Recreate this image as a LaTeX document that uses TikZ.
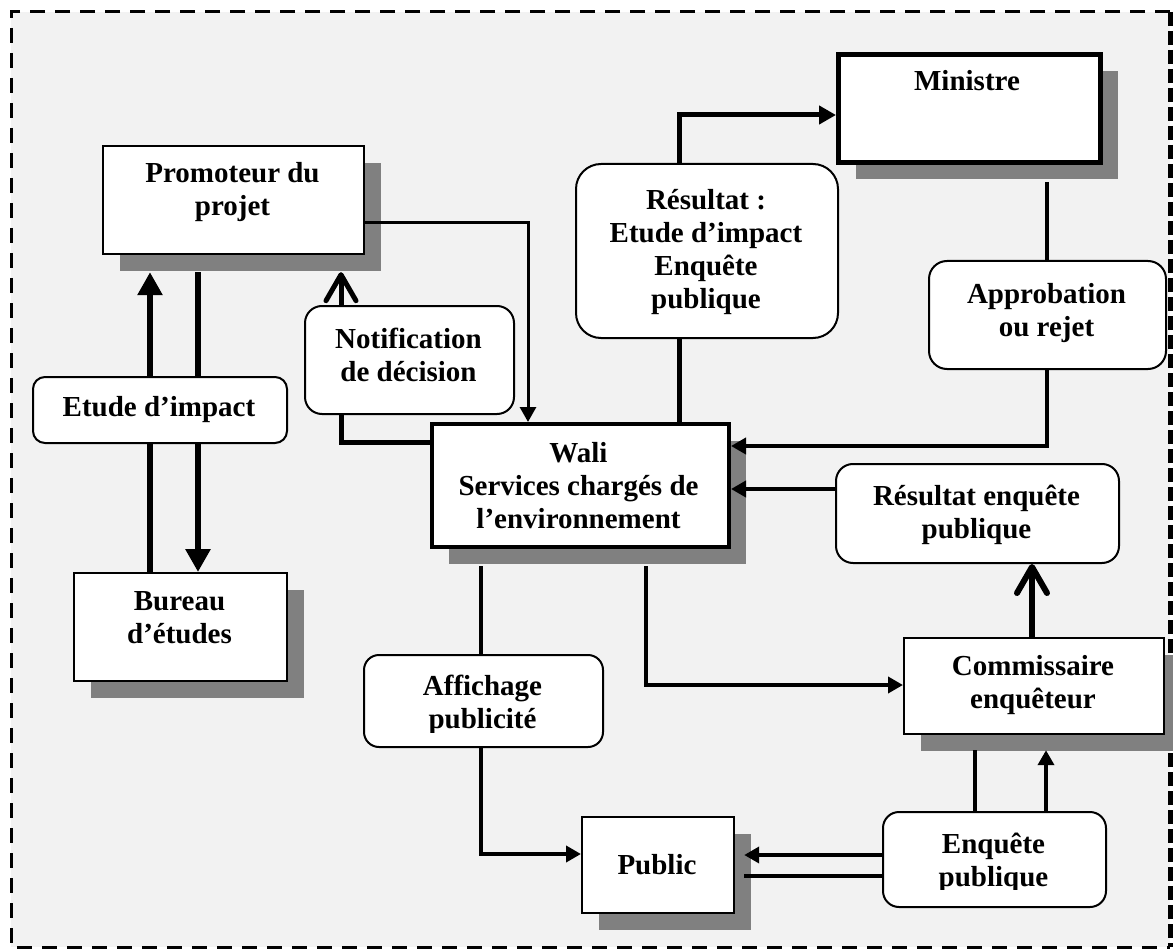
\documentclass[tikz,border=0pt]{standalone}
\usepackage{fontspec}
\setmainfont{Liberation Serif}
\usetikzlibrary{arrows.meta,shadows}

\definecolor{panel}{HTML}{F2F2F2}
\definecolor{shadowgray}{HTML}{808080}

% centred multi-line label whose base is the first baseline
\newcommand\stack[1]{\begin{tabular}[t]{@{}c@{}}#1\end{tabular}}

\tikzset{
  box/.style={draw=black, fill=white, line width=2.2pt, inner sep=0pt, anchor=north west},
  castshadow/.style={drop shadow={shadow xshift=17pt, shadow yshift=-17pt, fill=shadowgray, opacity=1}},
  tag/.style={box, line width=2pt, rounded corners=#1},
  txt/.style={anchor=base, inner sep=0pt, font=\bfseries\fontsize{29}{33}\selectfont},
  link/.style={line width=4pt},
  tri/.style={-{Triangle[length=15pt,width=16pt]}},
  bigtri/.style={-{Triangle[length=23pt,width=24pt]}},
  chevron/.style={-{Straight Barb[length=26pt,width=30pt,round]}},
}

\begin{document}
\begin{tikzpicture}[x=1pt,y=-1pt]
\useasboundingbox (0,0) rectangle (1173,952);

% framed background
\fill[panel] (11,12) rectangle (1170,947);
\draw[line width=3pt, dash pattern=on 15pt off 10pt] (1170,12) -- (11,12) -- (11,947) -- (1170,947);
\draw[line width=5pt, dash pattern=on 14pt off 5pt] (1170,12) -- (1170,947);

% actors (shadowed boxes)
\node[box, castshadow, minimum width=261pt, minimum height=108pt] (prom) at (102,145) {};
\node[box, castshadow, line width=5pt, minimum width=262pt, minimum height=108pt] (min) at (836,52) {};
\node[box, castshadow, line width=4pt, minimum width=297pt, minimum height=123pt] (wali) at (430,422) {};
\node[box, castshadow, minimum width=213pt, minimum height=108pt] (bur) at (73,572) {};
\node[box, castshadow, minimum width=152pt, minimum height=96pt] (pub) at (581,816) {};
\node[box, castshadow, minimum width=260pt, minimum height=96pt] (comm) at (903,637) {};

\node[txt] (prom-t) at (232.5,183) {\stack{Promoteur du\\projet}};
\node[txt] (min-t) at (967,91) {Ministre};
\node[txt] (wali-t) at (578.5,462) {\stack{Wali\\Services chargés de\\l’environnement}};
\node[txt] (bur-t) at (179.5,610) {\stack{Bureau\\d’études}};
\node[txt] (pub-t) at (657,874) {Public};
\node[txt] (comm-t) at (1033,675) {\stack{Commissaire\\enquêteur}};

% points on the lower edges of the shadows
\coordinate (promfoot) at ([yshift=-17pt]prom.south);
\coordinate (minfoot) at ([yshift=-17pt]min.south);
\coordinate (walifoot) at ([yshift=-17pt]wali.south);
\coordinate (commfoot) at ([yshift=-15pt]comm.south);
\coordinate (pubside) at ([xshift=9pt]pub.east);

% result boxes that are targets (placed before the flows)
\node[tag=17pt, minimum width=283pt, minimum height=99pt] (renq) at (835,463) {};
\node[txt] (renq-t) at (976.5,505) {\stack{Résultat enquête\\publique}};

% flows
\draw[line width=6pt, bigtri] (bur.north -| 150,0) -- (promfoot -| 150,0);
\draw[line width=6pt, bigtri] (promfoot -| 198,0) -- (bur.north -| 198,0);
\draw[line width=5pt, chevron] (wali.west |- 0,442) -| (promfoot -| 341,0);
\draw[line width=5pt, -{Triangle[length=17pt,width=18pt]}] (wali.north -| 679,0) |- (min.west |- 0,115);
\draw[link, tri] (minfoot -| 1047,0) |- (wali.east |- 0,446);
\draw[link, tri] (renq.west |- 0,489) -- (wali.east |- 0,489);
\draw[link, tri] (walifoot -| 646,0) |- (comm.west |- 0,685);
\draw[line width=6pt, chevron] (comm.north -| 1032,0) -- (renq.south -| 1032,0);
\draw[link, tri] (walifoot -| 481,0) |- (pub.west |- 0,854);
\draw[line width=3pt, tri] (prom.east |- 0,223) -| (wali.north -| 528,0);

% survey boxes
\node[tag=16pt, minimum width=223pt, minimum height=95pt] (enq) at (882,811) {};
\draw[link, tri] (enq.west |- 0,855) -- (pubside |- 0,855);
\draw[link] (pubside |- 0,876) -- (enq.west |- 0,876);
\draw[link] (enq.north -| 975,0) -- (commfoot -| 975,0);
\draw[link, tri] (enq.north -| 1046,0) -- (commfoot -| 1046,0);

% labels laid over the flows
\node[tag=12pt, minimum width=254pt, minimum height=66pt] (etude) at (32,376) {};
\node[txt] (etude-t) at (159,416) {Etude d’impact};

\node[tag=17pt, minimum width=209pt, minimum height=108pt] (notif) at (304,305) {};
\node[txt] (notif-t) at (408.5,348) {\stack{Notification\\de décision}};

\node[tag=25pt, minimum width=262pt, minimum height=174pt] (res) at (575,163) {};
\node[txt] (res-t) at (706,210) {\stack{Résultat :\\Etude d’impact\\Enquête\\publique}};

\node[tag=18pt, minimum width=237pt, minimum height=108pt] (appr) at (928,260) {};
\node[txt] (appr-t) at (1046.5,303) {\stack{Approbation\\ou rejet}};

\node[tag=15pt, minimum width=239pt, minimum height=92pt] (aff) at (363,654) {};
\begin{scope}
  \clip (363,654) rectangle (602,732);
  \node[txt] (aff-t) at (482.5,695) {\stack{Affichage\\publicité}};
\end{scope}

\begin{scope}
  \clip (882,811) rectangle (1105,889);
  \node[txt] (enq-t) at (993.5,853) {\stack{Enquête\\publique}};
\end{scope}
\end{tikzpicture}
\end{document}
